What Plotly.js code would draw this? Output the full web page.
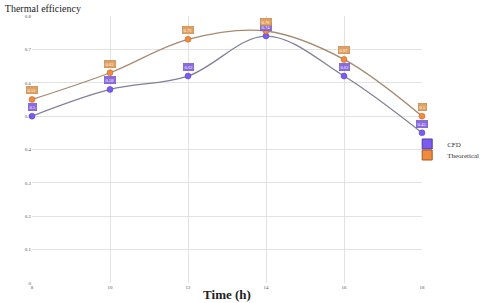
<!DOCTYPE html>
<html><head><meta charset="utf-8">
<script src="https://cdn.plot.ly/plotly-3.0.1.min.js"></script>
<style>html,body{margin:0;padding:0;background:#fff}</style>
</head><body><div id="chart" style="width:480px;height:303px"></div>
<script>
const hours = [8, 10, 12, 14, 16, 18];
const cfd = [0.50, 0.58, 0.62, 0.74, 0.62, 0.45];
const theoretical = [0.55, 0.63, 0.73, 0.755, 0.67, 0.50];
const cfdLabels = ['0.5', '0.58', '0.62', '0.74', '0.62', '0.45'];
const theoLabels = ['0.55', '0.63', '0.73', '0.76', '0.67', '0.5'];
const seriesNames = ['CFD', 'Theoretical'];

const cfdColor = '#7a5af0', theoColor = '#f08a3c';
const traces = [
  {x: hours, y: cfd, type: 'scatter', mode: 'lines+markers', name: seriesNames[0], showlegend: false, cliponaxis: false,
   line: {shape: 'spline', color: '#80809a', width: 1.3}, marker: {color: cfdColor, size: 6, line: {color: '#5a40c0', width: 0.5}}},
  {x: hours, y: theoretical, type: 'scatter', mode: 'lines+markers', name: seriesNames[1], showlegend: false, cliponaxis: false,
   line: {shape: 'spline', color: '#a88a70', width: 1.3}, marker: {color: theoColor, size: 6, line: {color: '#c06020', width: 0.5}}},
  {x: [null], y: [null], type: 'scatter', mode: 'markers', name: seriesNames[0], legend: 'legend',
   marker: {symbol: 'square', size: 10, color: cfdColor, line: {color: '#4a3aa0', width: 1}}},
  {x: [null], y: [null], type: 'scatter', mode: 'markers', name: seriesNames[1], legend: 'legend2',
   marker: {symbol: 'square', size: 10, color: theoColor, line: {color: '#a05a20', width: 1}}}
];
const annotations = [];
hours.forEach((h, i) => {
  annotations.push({x: h, y: cfd[i], text: cfdLabels[i], showarrow: false, yshift: 9,
    bgcolor: '#8a6ae0', bordercolor: '#6a50c0', borderwidth: 0.5, borderpad: 1,
    font: {size: 4.5, color: '#fff', family: 'Liberation Serif'}});
  annotations.push({x: h, y: theoretical[i], text: theoLabels[i], showarrow: false, yshift: 9,
    bgcolor: '#e0a060', bordercolor: '#c08040', borderwidth: 0.5, borderpad: 1,
    font: {size: 4.5, color: '#fff', family: 'Liberation Serif'}});
});
const legendBase = {x: 0.962, xanchor: 'left', yanchor: 'middle', font: {size: 7, family: 'Liberation Serif', color: '#333'},
  bgcolor: 'rgba(0,0,0,0)', itemwidth: 30, borderwidth: 0};
const layout = {
  width: 480, height: 303,
  margin: {l: 32, r: 58, t: 16, b: 20, autoexpand: false},
  paper_bgcolor: '#fff', plot_bgcolor: '#fff',
  showlegend: true,
  legend: Object.assign({}, legendBase, {y: (283 - 144) / 267}),
  legend2: Object.assign({}, legendBase, {y: (283 - 155) / 267}),
  title: {text: 'Thermal efficiency', x: 0.01, xanchor: 'left', y: 0.985, yanchor: 'top',
    font: {size: 10, family: 'Liberation Serif', color: '#222'}},
  xaxis: {range: [8, 18], tickvals: hours, ticktext: hours.map(String), showgrid: true, gridcolor: '#e2e2e2',
    zeroline: false, showline: false, tickfont: {size: 5, color: '#555', family: 'Liberation Serif'}, ticklen: 0,
    title: {text: '<b>Time (h)</b>', font: {size: 13, family: 'Liberation Serif', color: '#222'}, standoff: 0}},
  yaxis: {range: [0, 0.8], dtick: 0.1, showgrid: true, gridcolor: '#e2e2e2', zeroline: false, showline: false,
    tickfont: {size: 5, color: '#555', family: 'Liberation Serif'}, tickformat: '.1~f'},
  annotations: annotations
};
Plotly.newPlot('chart', traces, layout, {displayModeBar: false, staticPlot: true});
</script></body></html>
